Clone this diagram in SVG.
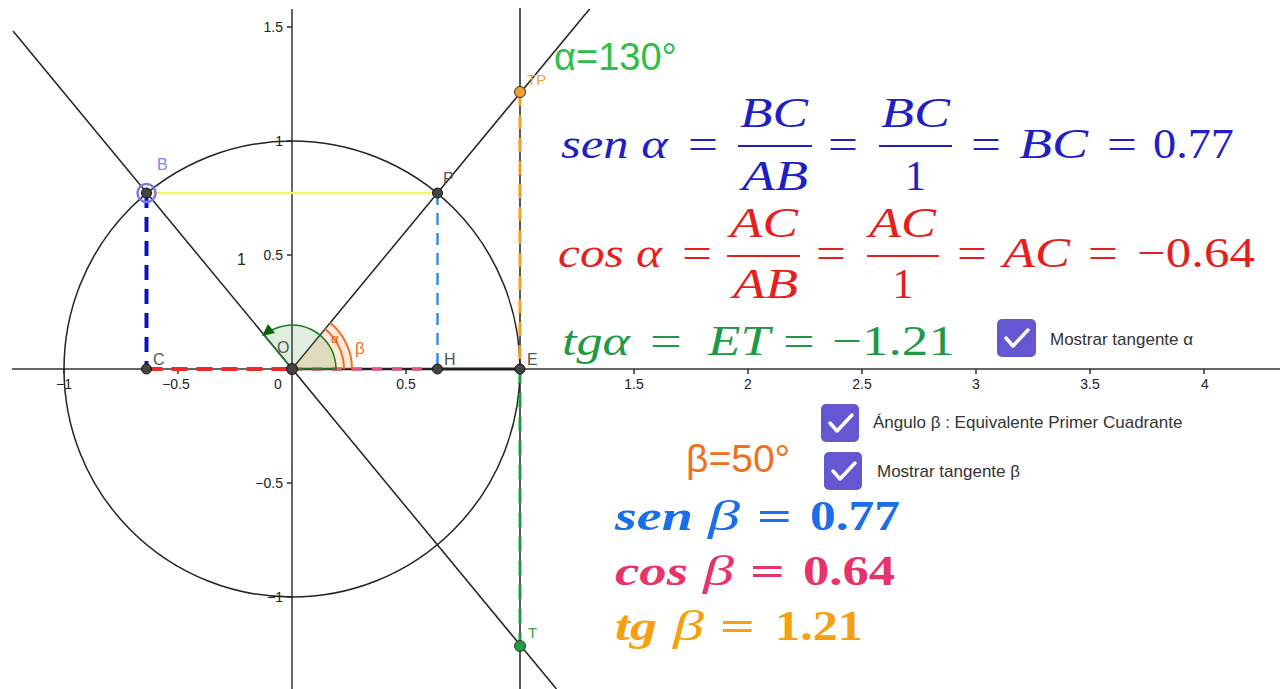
<svg xmlns="http://www.w3.org/2000/svg" width="1280" height="689" viewBox="0 0 1280 689">
<defs>
<style>
.ax{stroke:#333;stroke-width:1.5;fill:none}
.tk{font-family:"Liberation Sans",Arial,sans-serif;font-size:14px;fill:#222}
.pl{font-family:"Liberation Sans",Arial,sans-serif;font-size:16px;fill:#555}
.pt{stroke:#111;stroke-width:1;fill:#444}
.m{font-family:"Liberation Serif","Times New Roman",serif;font-size:42px;font-style:italic}
.n{font-family:"Liberation Serif","Times New Roman",serif;font-size:42px;font-style:normal}
.mb{font-family:"Liberation Serif","Times New Roman",serif;font-size:42px;font-style:italic;font-weight:bold}
.nb{font-family:"Liberation Serif","Times New Roman",serif;font-size:42px;font-style:normal;font-weight:bold}
.cb{fill:#6557d2}
.ck{fill:none;stroke:#fff;stroke-width:3.5;stroke-linecap:round;stroke-linejoin:round}
.cl{font-family:"Liberation Sans",Arial,sans-serif;font-size:17px;fill:#333}
</style>
</defs>
<rect width="1280" height="689" fill="#fff"/>

<g id="axes">
<line class="ax" x1="12" y1="369" x2="1280" y2="369"/>
<line class="ax" x1="292" y1="9" x2="292" y2="689"/>
<path class="ax" d="M64 369v5M178 369v5M406 369v5M634 369v5M748 369v5M862 369v5M976 369v5M1090 369v5M1204 369v5M287 27h5M287 141h5M287 255h5M287 483h5M287 597h5"/>
<g class="tk" text-anchor="middle">
<text x="64" y="389">−1</text>
<text x="176" y="389">−0.5</text>
<text x="278" y="389">0</text>
<text x="406" y="389">0.5</text>
<text x="634" y="389">1.5</text>
<text x="748" y="389">2</text>
<text x="862" y="389">2.5</text>
<text x="976" y="389">3</text>
<text x="1090" y="389">3.5</text>
<text x="1205" y="389">4</text>
</g>
<g class="tk" text-anchor="end">
<text x="283" y="32">1.5</text>
<text x="283" y="146">1</text>
<text x="283" y="260">0.5</text>
<text x="283" y="488">−0.5</text>
<text x="283" y="602">−1</text>
</g>
<text x="237" y="265" font-family="Liberation Sans,Arial,sans-serif" font-size="16" fill="#222">1</text>
</g>

<g id="circle"><circle cx="292" cy="369" r="228" fill="none" stroke="#222" stroke-width="1.5"/></g>

<g id="connectors">
<line x1="13" y1="31" x2="556.5" y2="689" stroke="#222" stroke-width="1.5"/>
<line x1="292" y1="369" x2="589.6" y2="9" stroke="#222" stroke-width="1.5"/>
<line x1="520" y1="8" x2="520" y2="689" stroke="#222" stroke-width="1.5"/>
<line x1="146.5" y1="193" x2="437.5" y2="193" stroke="#f4f46a" stroke-width="2.5"/>
<line x1="146.5" y1="193" x2="146.5" y2="369" stroke="#0a14c4" stroke-width="4" stroke-dasharray="15 9"/>
<line x1="437.5" y1="193" x2="437.5" y2="369" stroke="#3b8de0" stroke-width="2.5" stroke-dasharray="12 8"/>
<line x1="146.5" y1="369" x2="292" y2="369" stroke="#f02828" stroke-width="4" stroke-dasharray="16 9"/>
<line x1="292" y1="369" x2="437.5" y2="369" stroke="#222" stroke-width="2.5"/>
<line x1="292" y1="369" x2="437.5" y2="369" stroke="#e0508a" stroke-width="3.5" stroke-dasharray="10 10"/>
<line x1="437.5" y1="369" x2="520" y2="369" stroke="#222" stroke-width="3"/>
<line x1="520" y1="92" x2="520" y2="369" stroke="#f0a020" stroke-width="3" stroke-dasharray="14 9"/>
<line x1="520" y1="369" x2="520" y2="646" stroke="#1e9e3e" stroke-width="3" stroke-dasharray="14 10"/>
</g>

<g id="angles">
<path d="M292 369 L352 369 A60 60 0 0 0 330.2 322.7 Z" fill="#ff9a50" fill-opacity="0.22"/>
<path d="M292 369 L336 369 A44 44 0 0 0 264 335.1 Z" fill="#2e8b2e" fill-opacity="0.15" stroke="#1f7a1f" stroke-width="1.5"/>
<path d="M344 369 A52 52 0 0 0 325.1 328.9 M352 369 A60 60 0 0 0 330.2 322.7" fill="none" stroke="#f07020" stroke-width="2"/>
<polygon points="262,336 275,333 268,324" fill="#0a640a"/>
<text x="331" y="343" font-family="Liberation Sans,Arial,sans-serif" font-size="13" fill="#e06010">α</text>
<text x="355" y="354" font-family="Liberation Sans,Arial,sans-serif" font-size="17" fill="#f07020">β</text>
</g>

<g id="points">
<g id="pC"><circle class="pt" cx="146.5" cy="369" r="5"/><text class="pl" x="153" y="365">C</text></g>
<g id="pO"><circle class="pt" cx="292" cy="369" r="5.5"/><text class="pl" x="277" y="353">O</text></g>
<g id="pH"><circle class="pt" cx="437.5" cy="369" r="5"/><text class="pl" x="444" y="365">H</text></g>
<g id="pE"><circle class="pt" cx="520" cy="369" r="5"/><text class="pl" x="527" y="365">E</text></g>
<g id="pB"><circle cx="146.5" cy="193" r="9" fill="none" stroke="#7a7af0" stroke-width="2.5"/><circle class="pt" cx="146.5" cy="193" r="5" fill="#4a4a9a"/><text class="pl" x="157" y="170" fill="#8080f0" style="fill:#8484f0">B</text></g>
<g id="pP"><circle class="pt" cx="437.5" cy="193" r="5"/><text class="pl" x="443" y="184">P</text></g>
<g id="pTP"><circle cx="520" cy="92" r="5.5" fill="#f0a030" stroke="#333" stroke-width="1"/><text class="pl" x="527" y="85" style="fill:#f0a030;font-size:15px">TP</text></g>
<g id="pT"><circle cx="520" cy="646" r="5.5" fill="#1e9e3e" stroke="#333" stroke-width="1"/><text class="pl" x="528" y="638" style="fill:#30a050;font-size:15px">T</text></g>
</g>

<g id="alpha-label"><text x="554" y="70" font-family="Liberation Sans,Arial,sans-serif" font-size="38" fill="#2cbf44">α=130°</text></g>

<g id="sen-alpha" fill="#1f1fc4">
<text class="m" x="561" y="158" textLength="107" lengthAdjust="spacingAndGlyphs">sen α</text>
<text class="n" x="688" y="158" textLength="30" lengthAdjust="spacingAndGlyphs">=</text>
<text class="m" x="740" y="127" textLength="68" lengthAdjust="spacingAndGlyphs">BC</text>
<rect x="738" y="145" width="74" height="2"/>
<text class="m" x="742" y="190" textLength="66" lengthAdjust="spacingAndGlyphs">AB</text>
<text class="n" x="828" y="158" textLength="30" lengthAdjust="spacingAndGlyphs">=</text>
<text class="m" x="881" y="127" textLength="69" lengthAdjust="spacingAndGlyphs">BC</text>
<rect x="879" y="145" width="73" height="2"/>
<text class="n" x="915.5" y="190" text-anchor="middle">1</text>
<text class="n" x="971" y="158" textLength="30" lengthAdjust="spacingAndGlyphs">=</text>
<text class="m" x="1019" y="158" textLength="69" lengthAdjust="spacingAndGlyphs">BC</text>
<text class="n" x="1107" y="158" textLength="30" lengthAdjust="spacingAndGlyphs">=</text>
<text class="n" x="1153" y="158" textLength="81" lengthAdjust="spacingAndGlyphs">0.77</text>
</g>

<g id="cos-alpha" fill="#e61e1e">
<text class="m" x="558" y="267" textLength="104" lengthAdjust="spacingAndGlyphs">cos α</text>
<text class="n" x="682" y="267" textLength="30" lengthAdjust="spacingAndGlyphs">=</text>
<text class="m" x="730" y="237" textLength="68" lengthAdjust="spacingAndGlyphs">AC</text>
<rect x="727" y="255" width="73" height="2"/>
<text class="m" x="733" y="298" textLength="65" lengthAdjust="spacingAndGlyphs">AB</text>
<text class="n" x="816" y="267" textLength="30" lengthAdjust="spacingAndGlyphs">=</text>
<text class="m" x="869" y="237" textLength="67" lengthAdjust="spacingAndGlyphs">AC</text>
<rect x="867" y="255" width="72" height="2"/>
<text class="n" x="903" y="298" text-anchor="middle">1</text>
<text class="n" x="957" y="267" textLength="30" lengthAdjust="spacingAndGlyphs">=</text>
<text class="m" x="1003" y="267" textLength="67" lengthAdjust="spacingAndGlyphs">AC</text>
<text class="n" x="1088" y="267" textLength="30" lengthAdjust="spacingAndGlyphs">=</text>
<text class="n" x="1137" y="267" textLength="118" lengthAdjust="spacingAndGlyphs">−0.64</text>
</g>

<g id="tg-alpha" fill="#1e9a46">
<text class="m" x="562" y="355" textLength="68" lengthAdjust="spacingAndGlyphs">tgα</text>
<text class="n" x="650" y="355" textLength="32" lengthAdjust="spacingAndGlyphs">=</text>
<text class="m" x="708" y="355" textLength="62" lengthAdjust="spacingAndGlyphs">ET</text>
<text class="n" x="783" y="355" textLength="32" lengthAdjust="spacingAndGlyphs">=</text>
<text class="n" x="832" y="355" textLength="123" lengthAdjust="spacingAndGlyphs">−1.21</text>
</g>

<g id="checkbox-tan-alpha">
<rect class="cb" x="997" y="319" width="39" height="38" rx="5"/>
<polyline class="ck" points="1006,338 1013,346 1028,330"/>
<text class="cl" x="1050" y="345">Mostrar tangente α</text>
</g>
<g id="checkbox-beta">
<rect class="cb" x="821" y="404" width="38" height="38" rx="5"/>
<polyline class="ck" points="830,423 837,431 852,415"/>
<text class="cl" x="873" y="428">Ángulo β : Equivalente Primer Cuadrante</text>
</g>
<g id="checkbox-tan-beta">
<rect class="cb" x="824" y="452" width="38" height="38" rx="5"/>
<polyline class="ck" points="833,471 840,479 855,463"/>
<text class="cl" x="877" y="477">Mostrar tangente β</text>
</g>

<g id="beta-label"><text x="686" y="472" font-family="Liberation Sans,Arial,sans-serif" font-size="39" fill="#f0701e">β=50°</text></g>

<g id="sen-beta" fill="#1a6ee8">
<text class="mb" x="615" y="530" textLength="78" lengthAdjust="spacingAndGlyphs">sen</text>
<text class="m" x="708" y="530" textLength="32" lengthAdjust="spacingAndGlyphs">β</text>
<text class="nb" x="757" y="530" textLength="35" lengthAdjust="spacingAndGlyphs">=</text>
<text class="nb" x="810" y="530" textLength="90" lengthAdjust="spacingAndGlyphs">0.77</text>
</g>
<g id="cos-beta" fill="#e8336a">
<text class="mb" x="615" y="585" textLength="73" lengthAdjust="spacingAndGlyphs">cos</text>
<text class="m" x="703" y="585" textLength="31" lengthAdjust="spacingAndGlyphs">β</text>
<text class="nb" x="750" y="585" textLength="35" lengthAdjust="spacingAndGlyphs">=</text>
<text class="nb" x="803" y="585" textLength="92" lengthAdjust="spacingAndGlyphs">0.64</text>
</g>
<g id="tg-beta" fill="#f5a010">
<text class="mb" x="615" y="640" textLength="42" lengthAdjust="spacingAndGlyphs">tg</text>
<text class="m" x="673" y="640" textLength="31" lengthAdjust="spacingAndGlyphs">β</text>
<text class="nb" x="720" y="640" textLength="35" lengthAdjust="spacingAndGlyphs">=</text>
<text class="nb" x="775" y="640" textLength="88" lengthAdjust="spacingAndGlyphs">1.21</text>
</g>
</svg>
